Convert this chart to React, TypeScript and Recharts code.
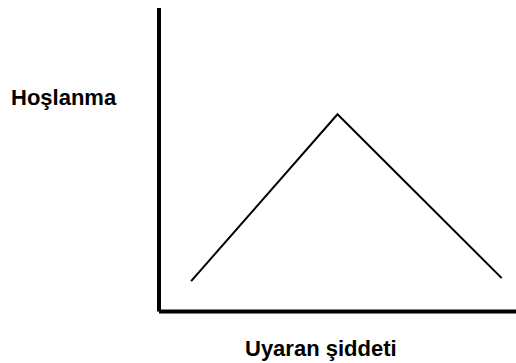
import { LineChart, Line, XAxis, YAxis, Label } from "recharts";

// stimulus intensity vs liking (inverted U)
const intensity = [0.9, 5, 9.6];
const liking = [1, 6.5, 1.1];

const yTitle = "Hoşlanma";
const xTitle = "Uyaran şiddeti";

const data = intensity.map((x, i) => ({ x, y: liking[i] }));

const font = "'Liberation Sans', Arial, sans-serif";

export default function App() {
  return (
    <div style={{ width: 516, height: 363, background: "#fff" }}>
      <style>{"body{margin:0}"}</style>
      <LineChart
        width={516}
        height={363}
        data={data}
        margin={{ top: 8, right: 0, bottom: 0, left: 0 }}
      >
        <XAxis
          type="number"
          dataKey="x"
          domain={[0, 10]}
          height={51.5}
          tick={false}
          tickLine={false}
          axisLine={{ stroke: "#000", strokeWidth: 4 }}
        >
          <Label
            content={({ viewBox }: any) => (
              <text
                x={viewBox.x + 86}
                y={viewBox.y + 44.5}
                fontFamily={font}
                fontWeight="bold"
                fontSize={22}
                fill="#000"
              >
                {xTitle}
              </text>
            )}
          />
        </XAxis>
        <YAxis
          type="number"
          domain={[0, 10]}
          width={159}
          tick={false}
          tickLine={false}
          axisLine={{ stroke: "#000", strokeWidth: 4 }}
        >
          <Label
            content={({ viewBox }: any) => (
              <text
                x={viewBox.x + 11}
                y={viewBox.y + 97}
                fontFamily={font}
                fontWeight="bold"
                fontSize={22}
                fill="#000"
              >
                {yTitle}
              </text>
            )}
          />
        </YAxis>
        <Line
          dataKey="y"
          stroke="#000"
          strokeWidth={2}
          dot={false}
          isAnimationActive={false}
        />
      </LineChart>
    </div>
  );
}
